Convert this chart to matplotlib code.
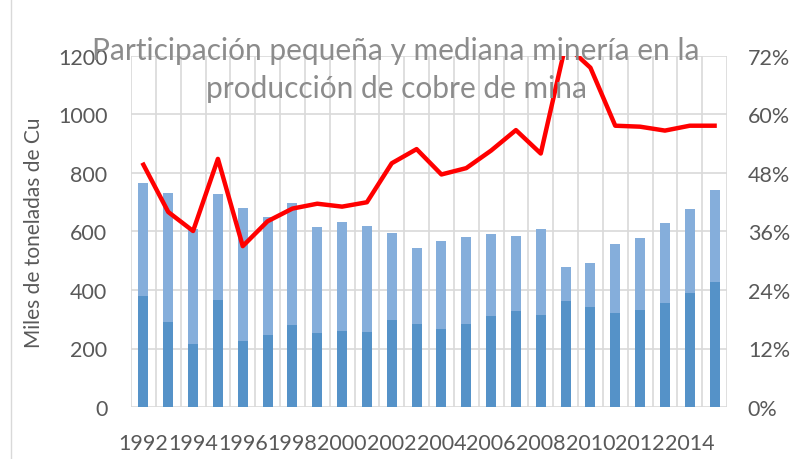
import numpy as np
import matplotlib
matplotlib.use("Agg")
import matplotlib.pyplot as plt
from matplotlib.ticker import FuncFormatter

plt.rcParams['font.family'] = ['Lato', 'DejaVu Sans']

years = list(range(1992, 2016))
# miles de toneladas de Cu
pequena = [381, 292, 216, 366, 225, 247, 282, 254, 260, 257, 297, 284,
           266, 284, 312, 328, 315, 362, 342, 320, 332, 356, 390, 426]
total = [766, 733, 607, 727, 680, 650, 699, 615, 634, 619, 595, 542,
         566, 582, 593, 583, 608, 479, 494, 556, 579, 630, 677, 743]
mediana = [t - p for t, p in zip(total, pequena)]
# participación en la producción de cobre de mina
participacion = [49.7, 40.0, 36.1, 50.9, 33.0, 38.1, 40.7, 41.7, 41.1, 42.0,
                 50.0, 52.9, 47.7, 49.0, 52.6, 56.8, 52.0, 74.3, 69.6, 57.7,
                 57.5, 56.7, 57.7, 57.7]

dark = '#5592c8'
light = '#85aedb'
grid = '#d9d9d9'
txt = '#595959'

fig = plt.figure(figsize=(7.92, 4.60), dpi=100)
ax = fig.add_axes([131 / 792, 1 - 408 / 460, 596 / 792, 351 / 460])
x = np.arange(len(years))

ax.bar(x, pequena, width=0.4, color=dark, zorder=2)
ax.bar(x, mediana, width=0.4, bottom=pequena, color=light, zorder=2)

ax.set_xlim(-0.5, len(years) - 0.5)
ax.set_ylim(0, 1200)
ax.set_yticks(range(0, 1201, 200))
ax.set_xticks(x[::2])
ax.set_xticklabels([str(y) for y in years[::2]])
ax.set_xticks(np.arange(-0.5, len(years), 1), minor=True)
ax.grid(axis='y', color=grid, linewidth=1.2, zorder=0)
ax.grid(axis='x', which='minor', color=grid, linewidth=1.2, zorder=0)
ax.tick_params(axis='both', which='both', length=0, colors=txt, labelsize=15.5)
ax.tick_params(axis='y', pad=17)
ax.tick_params(axis='x', pad=19)
for s in ax.spines.values():
    s.set_visible(False)
ax.set_ylabel('Miles de toneladas de Cu', fontsize=15, color=txt, labelpad=10)

ax2 = ax.twinx()
ax2.plot(x, participacion, color='#ff0000', linewidth=3.2, zorder=3)
ax2.set_ylim(0, 72)
ax2.set_yticks(range(0, 73, 12))
ax2.yaxis.set_major_formatter(FuncFormatter(lambda v, p: f'{v:.0f}%'))
ax2.tick_params(axis='y', length=0, colors=txt, labelsize=15.5, pad=15)
for s in ax2.spines.values():
    s.set_visible(False)

fig.text(0.5, 1 - 51 / 460, 'Participación pequeña y mediana minería en la',
         ha='center', va='center', fontsize=21.5, color='#8c8c8c')
fig.text(0.5, 1 - 89 / 460, 'producción de cobre de mina',
         ha='center', va='center', fontsize=21.5, color='#8c8c8c')

fig.add_artist(plt.Line2D([11 / 792, 11 / 792], [0, 1], color=grid, linewidth=1))

fig.savefig('out.png', dpi=100)
